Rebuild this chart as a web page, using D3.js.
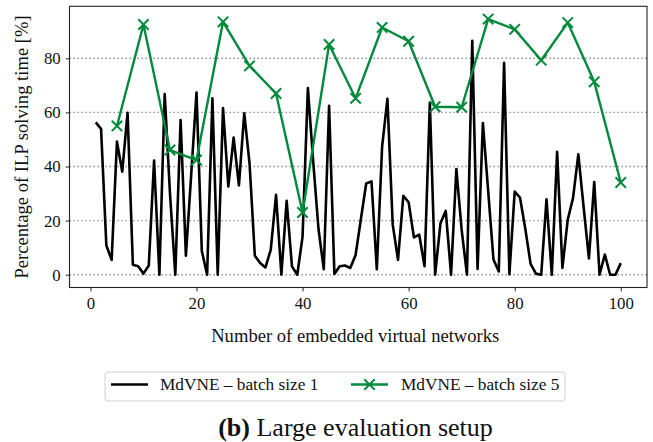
<!DOCTYPE html>
<html>
<head>
<meta charset="utf-8">
<script src="https://cdn.jsdelivr.net/npm/d3@7"></script>
<style>
  body { margin: 0; background: #fff; }
  svg { display: block; }
  svg text { font-family: "Liberation Serif", "DejaVu Serif", serif; }
</style>
</head>
<body>
<div id="chart"></div>
<script>
// batch size 1: one value per embedded network (1..100)
const batch1 = [
  56.3, 53.9, 10.8, 5.5, 49.2, 38.1, 59.9, 3.7, 3.1, 0.4,
  3.4, 42.2, 0, 66.8, 30, 0, 57.2, 7, 37, 67.3,
  8.8, 0, 65.2, 0, 61.6, 32.6, 50.7, 33, 59.7, 41.2,
  7, 4.3, 2.7, 9.2, 29.5, 0, 27.3, 3.1, 0, 14.1,
  69, 42, 17, 2, 62.4, 0.3, 3.1, 3.4, 2.5, 7.3,
  20.6, 33.7, 34.5, 2, 47.3, 65, 18.5, 5.5, 29.2, 26.8,
  13.8, 14.8, 3.1, 63.6, 0, 19, 23.6, 0, 39.1, 16.6,
  0, 86.5, 2.1, 56.1, 31, 5.6, 1.2, 78.3, 0.2, 30.7,
  28.5, 17, 4, 0.4, 0, 27.9, 0, 45.4, 2.5, 20.3,
  28.3, 44.5, 25, 6, 34.3, 0, 7.4, 0, 0, 4.3
];
// batch size 5: every 5th network
const batch5X = [5, 10, 15, 20, 25, 30, 35, 40, 45, 50, 55, 60, 65, 70, 75, 80, 85, 90, 95, 100];
const batch5 = [55, 92.5, 46.1, 42.4, 93.5, 77.2, 67, 23, 85.1, 65.2,
                91.4, 86.3, 62.1, 61.9, 94.5, 90.7, 79.3, 93.2, 71.3, 34.1];
const xTicks = [0, 20, 40, 60, 80, 100];
const yTicks = [0, 20, 40, 60, 80];
const seriesNames = ["MdVNE \u2013 batch size 1", "MdVNE \u2013 batch size 5"];

const W = 653, H = 442;
const plot = { left: 69.5, right: 647, top: 6.3, bottom: 287.5 };
const green = "#008a3b";

const svg = d3.select("#chart").append("svg")
  .attr("width", W).attr("height", H);

const d1 = batch1.map((v, i) => ({ x: i + 1, y: v }));
const d5 = batch5.map((v, i) => ({ x: batch5X[i], y: v }));

// matplotlib-like 5% margins
const xExt = d3.extent(d1.concat(d5), d => d.x);
const yExt = d3.extent(d1.concat(d5), d => d.y);
const xPad = (xExt[1] - xExt[0]) * 0.05, yPad = (yExt[1] - yExt[0]) * 0.05;

const x = d3.scaleLinear().domain([xExt[0] - xPad, xExt[1] + xPad]).range([plot.left, plot.right]);
const y = d3.scaleLinear().domain([yExt[0] - yPad, yExt[1] + yPad]).range([plot.bottom, plot.top]);

// grid
svg.append("g").selectAll("line")
  .data(yTicks).enter().append("line")
  .attr("x1", plot.left).attr("x2", plot.right)
  .attr("y1", d => y(d)).attr("y2", d => y(d))
  .attr("stroke", "#8a8a8a").attr("stroke-width", 1.4)
  .attr("stroke-dasharray", "1.4,2.6");

// lines
const line = d3.line().x(d => x(d.x)).y(d => y(d.y));
svg.append("path").datum(d1)
  .attr("d", line).attr("fill", "none")
  .attr("stroke", "#000").attr("stroke-width", 2.6)
  .attr("stroke-linejoin", "round");

svg.append("path").datum(d5)
  .attr("d", line).attr("fill", "none")
  .attr("stroke", green).attr("stroke-width", 2.4)
  .attr("stroke-linejoin", "round");

const cross = (g, s) => g.append("path")
  .attr("d", `M${-s},${-s}L${s},${s}M${-s},${s}L${s},${-s}`)
  .attr("stroke", green).attr("stroke-width", 2).attr("fill", "none");

svg.append("g").selectAll("g")
  .data(d5).enter().append("g")
  .attr("transform", d => `translate(${x(d.x)},${y(d.y)})`)
  .each(function () { cross(d3.select(this), 5.2); });

// frame
svg.append("rect")
  .attr("x", plot.left).attr("y", plot.top)
  .attr("width", plot.right - plot.left).attr("height", plot.bottom - plot.top)
  .attr("fill", "none").attr("stroke", "#222").attr("stroke-width", 1.1);

// axes
const xAxis = svg.append("g")
  .attr("transform", `translate(0,${plot.bottom})`)
  .call(d3.axisBottom(x).tickValues(xTicks).tickSize(3.8).tickPadding(6).tickFormat(d3.format("d")));
const yAxis = svg.append("g")
  .attr("transform", `translate(${plot.left},0)`)
  .call(d3.axisLeft(y).tickValues(yTicks).tickSize(3.8).tickPadding(5).tickFormat(d3.format("d")));
[xAxis, yAxis].forEach(a => {
  a.attr("font-family", null).attr("font-size", null);
  a.select(".domain").remove();
  a.selectAll("line").attr("stroke", "#222").attr("stroke-width", 1);
  a.selectAll("text").attr("font-size", 16.8).attr("fill", "#111");
});

// axis titles
svg.append("text")
  .attr("x", (plot.left + plot.right) / 2 - 3).attr("y", 342)
  .attr("text-anchor", "middle").attr("font-size", 18.6).attr("fill", "#111")
  .text("Number of embedded virtual networks");

svg.append("text")
  .attr("transform", `translate(28,${(plot.top + plot.bottom) / 2}) rotate(-90)`)
  .attr("text-anchor", "middle").attr("font-size", 18.6).attr("fill", "#111")
  .text("Percentage of ILP solving time [%]");

// legend
const lg = svg.append("g");
lg.append("rect")
  .attr("x", 105).attr("y", 372).attr("width", 460).attr("height", 29)
  .attr("rx", 3).attr("fill", "#fff").attr("stroke", "#d0d0d0").attr("stroke-width", 1);
lg.append("line").attr("x1", 111).attr("x2", 148).attr("y1", 384.5).attr("y2", 384.5)
  .attr("stroke", "#000").attr("stroke-width", 2.6);
lg.append("text").attr("x", 160).attr("y", 390).attr("font-size", 17.3).attr("fill", "#111")
  .text(seriesNames[0]);
lg.append("line").attr("x1", 351).attr("x2", 388).attr("y1", 384.5).attr("y2", 384.5)
  .attr("stroke", green).attr("stroke-width", 2.4);
cross(lg.append("g").attr("transform", "translate(369.5,384.5)"), 5.2);
lg.append("text").attr("x", 401).attr("y", 390).attr("font-size", 17.3).attr("fill", "#111")
  .text(seriesNames[1]);

// caption
const cap = svg.append("text")
  .attr("x", 355.5).attr("y", 436).attr("text-anchor", "middle")
  .attr("font-size", 26).attr("fill", "#111");
cap.append("tspan").attr("font-weight", "bold").text("(b)");
cap.append("tspan").text(" Large evaluation setup");
</script>
</body>
</html>
